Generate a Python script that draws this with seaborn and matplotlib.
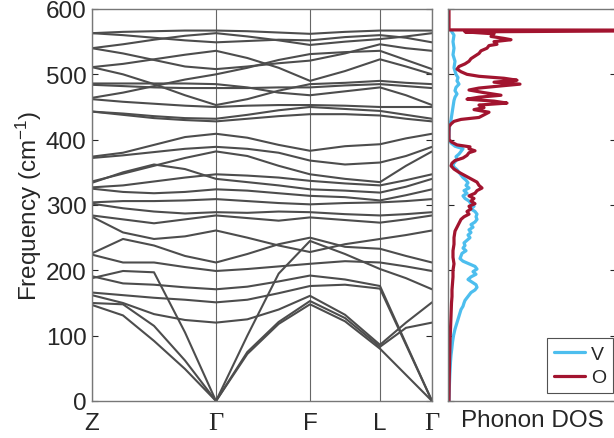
import numpy as np
import pandas as pd
import matplotlib
matplotlib.use("Agg")
import matplotlib.pyplot as plt
import seaborn as sns

# ---------------- data ----------------
seg_len = [124, 94, 70, 52]          # relative path lengths Z-Γ, Γ-F, F-L, L-Γ
seg_subdiv = [4, 3, 2, 2]            # sampled points per segment
tick_labels = ["Z", "Γ", "F", "L", "Γ"]

# frequencies (cm^-1) at knots: Z, 3 pts, Γ, 2 pts, F, 1 pt, L, 1 pt, Γ
bands = [
    [147, 131, 92, 49, 0, 72, 118, 148, 122, 80, 40, 0],
    [150, 148, 115, 62, 0, 75, 121, 153, 127, 83, 112, 120],
    [188, 199, 197, 105, 0, 100, 195, 245, 225, 202, 188, 171],
    [162, 150, 133, 124, 120, 125, 140, 161, 132, 86, 120, 151],
    [166, 162, 158, 155, 151, 155, 165, 176, 178, 172, 86, 0],
    [191, 180, 178, 174, 171, 175, 183, 192, 186, 176, 88, 0],
    [224, 212, 212, 205, 199, 202, 206, 210, 214, 212, 206, 199],
    [226, 248, 238, 222, 212, 225, 240, 250, 236, 233, 222, 212],
    [282, 258, 248, 252, 261, 250, 238, 228, 240, 248, 254, 261],
    [284, 278, 272, 278, 284, 280, 276, 281, 277, 273, 278, 284],
    [302, 295, 290, 287, 289, 288, 290, 289, 286, 284, 286, 289],
    [304, 306, 306, 307, 309, 306, 303, 301, 303, 304, 306, 309],
    [325, 320, 318, 320, 324, 322, 318, 314, 312, 307, 315, 324],
    [327, 330, 336, 342, 347, 345, 342, 337, 333, 330, 338, 347],
    [334, 350, 362, 355, 340, 335, 330, 324, 322, 319, 328, 340],
    [336, 348, 360, 372, 382, 375, 360, 347, 340, 335, 360, 382],
    [372, 376, 381, 386, 389, 386, 380, 368, 362, 365, 375, 389],
    [374, 380, 392, 404, 409, 403, 392, 383, 390, 393, 402, 409],
    [443, 438, 433, 430, 428, 432, 436, 439, 439, 437, 432, 428],
    [443, 440, 436, 433, 432, 438, 445, 450, 447, 444, 438, 432],
    [462, 458, 455, 452, 450, 452, 453, 453, 452, 450, 450, 450],
    [464, 472, 482, 492, 500, 510, 522, 531, 534, 536, 522, 508],
    [484, 482, 480, 479, 479, 479, 480, 480, 483, 485, 482, 479],
    [486, 486, 486, 486, 485, 480, 472, 468, 474, 480, 468, 453],
    [511, 500, 485, 468, 453, 462, 475, 485, 487, 490, 487, 485],
    [511, 516, 523, 530, 536, 525, 510, 490, 505, 523, 512, 500],
    [540, 532, 522, 512, 508, 512, 517, 521, 532, 546, 540, 536],
    [540, 546, 553, 559, 563, 558, 552, 545, 550, 554, 558, 563],
    [563, 560, 556, 552, 549, 551, 553, 552, 557, 560, 556, 549],
    [563, 565, 566, 567, 567, 566, 564, 562, 565, 567, 567, 567],
]

# phonon DOS (arbitrary units)
o_freq = [600, 568, 567.5, 565, 562, 558, 555, 553, 550, 546, 544, 540, 536, 532, 528, 524,
          520, 516, 512, 508, 504, 500, 497, 494, 491, 488, 485, 482, 479, 476, 472, 468,
          465, 462, 459, 456, 453, 449, 446, 442, 438, 434, 431, 428, 424, 420, 400, 396,
          392, 389, 386, 383, 380, 376, 372, 368, 364, 360, 355, 350, 345, 340, 335, 330,
          326, 322, 318, 314, 310, 306, 302, 298, 294, 290, 286, 282, 278, 272, 266, 260,
          250, 240, 230, 220, 210, 200, 190, 180, 170, 160, 150, 130, 110, 90, 60, 30, 0]
o_dos = [0, 0, 3.0, 0.16, 0.45, 0.42, 0.55, 0.62, 0.45, 0.48, 0.40, 0.38, 0.32, 0.30, 0.26, 0.22,
         0.20, 0.16, 0.10, 0.08, 0.12, 0.18, 0.30, 0.55, 0.68, 0.45, 0.71, 0.50, 0.30, 0.20, 0.35, 0.52,
         0.30, 0.18, 0.45, 0.58, 0.30, 0.35, 0.25, 0.40, 0.35, 0.30, 0.12, 0.05, 0.02, 0.0, 0.0, 0.03,
         0.08, 0.21, 0.20, 0.26, 0.20, 0.18, 0.14, 0.06, 0.03, 0.02, 0.05, 0.10, 0.16, 0.22, 0.28, 0.30,
         0.33, 0.28, 0.26, 0.20, 0.25, 0.22, 0.26, 0.20, 0.22, 0.18, 0.20, 0.15, 0.12, 0.10, 0.08, 0.06,
         0.05, 0.05, 0.04, 0.04, 0.05, 0.04, 0.04, 0.035, 0.03, 0.03, 0.025, 0.02, 0.015, 0.01, 0.005, 0.002, 0]

v_freq = [567, 560, 550, 540, 530, 520, 510, 500, 495, 490, 485, 480, 475, 470, 465, 460,
          450, 440, 430, 420, 410, 400, 395, 390, 386, 382, 378, 374, 370, 366, 362, 358,
          354, 350, 346, 342, 338, 334, 330, 326, 322, 318, 314, 310, 306, 302, 298, 294,
          290, 286, 282, 278, 274, 270, 266, 262, 258, 254, 250, 246, 242, 238, 234, 230,
          226, 222, 218, 214, 210, 206, 202, 198, 194, 190, 186, 182, 178, 174, 170, 166,
          162, 158, 154, 150, 145, 140, 130, 120, 110, 100, 90, 80, 70, 60, 40, 20, 0]
v_dos = [0.02, 0.05, 0.04, 0.05, 0.04, 0.06, 0.05, 0.07, 0.09, 0.08, 0.10, 0.07, 0.06, 0.08, 0.06, 0.05,
         0.04, 0.03, 0.02, 0.005, 0.0, 0.0, 0.02, 0.06, 0.14, 0.12, 0.10, 0.07, 0.08, 0.06, 0.04, 0.05,
         0.08, 0.10, 0.12, 0.14, 0.17, 0.19, 0.17, 0.20, 0.15, 0.18, 0.14, 0.16, 0.20, 0.22, 0.25, 0.22,
         0.26, 0.28, 0.27, 0.28, 0.26, 0.22, 0.24, 0.20, 0.22, 0.19, 0.21, 0.18, 0.15, 0.16, 0.14, 0.17,
         0.13, 0.12, 0.11, 0.14, 0.20, 0.26, 0.28, 0.24, 0.27, 0.22, 0.19, 0.23, 0.27, 0.28, 0.26, 0.22,
         0.20, 0.18, 0.16, 0.15, 0.14, 0.12, 0.10, 0.08, 0.06, 0.045, 0.035, 0.028, 0.02, 0.015, 0.008, 0.003, 0]

# ---------------- build k path ----------------
starts = np.concatenate([[0], np.cumsum(seg_len)])
k = [0.0]
for s, L, n in zip(starts[:-1], seg_len, seg_subdiv):
    k += [s + L * (i + 1) / n for i in range(n)]
k = np.array(k)

rows = []
for b, vals in enumerate(bands):
    for kk, f in zip(k, vals):
        rows.append((b, kk, f))
df_bands = pd.DataFrame(rows, columns=["band", "k", "freq"])

df_o = pd.DataFrame({"freq": o_freq, "dos": o_dos})
df_v = pd.DataFrame({"freq": v_freq, "dos": v_dos})

# ---------------- style ----------------
sns.set_theme(style="white")
plt.rcParams["font.family"] = ["Liberation Sans", "DejaVu Sans"]
plt.rcParams["mathtext.fontset"] = "custom"
plt.rcParams["mathtext.rm"] = "Liberation Sans"
plt.rcParams["mathtext.it"] = "Liberation Sans:italic"

FS = 17.5
TXT = "#262626"
W, H = 614, 439
fig = plt.figure(figsize=(W / 100, H / 100), dpi=100)
ax = fig.add_axes([92 / W, 1 - 402 / H, 340 / W, 392 / H])
ax2 = fig.add_axes([448 / W, 1 - 402 / H, 168 / W, 392 / H])

band_col = "#4d4d4d"
sns.lineplot(data=df_bands, x="k", y="freq", units="band", estimator=None,
             color=band_col, lw=1.5, ax=ax, legend=False, sort=True)
for ln in ax.get_lines():
    ln.set_solid_joinstyle("round")

ax.set_xlim(0, starts[-1])
ax.set_ylim(0, 600)
ax.set_xticks(starts)
ax.set_xticklabels(tick_labels)
for lab in ax.get_xticklabels():
    if lab.get_text() == "Γ":
        lab.set_fontfamily(["Liberation Serif", "DejaVu Serif"])
        lab.set_fontsize(FS + 1.5)
ax.set_yticks(range(0, 601, 100))
ax.grid(axis="x", color="#666666", lw=0.8)
ax.grid(axis="y", visible=False)
ax.tick_params(axis="y", direction="in", length=4, width=0.8, right=True, left=True,
               labelsize=FS, colors=TXT, pad=4)
ax.tick_params(axis="x", length=0, labelsize=FS, colors=TXT, pad=8)
for lab in ax.get_xticklabels():
    if lab.get_text() == "Γ":
        lab.set_fontsize(FS + 1.5)
ax.set_xlabel("")
ax.set_ylabel("Frequency (cm$^{\\mathregular{-1}}$)", fontsize=FS, color=TXT)
ax.yaxis.set_label_coords(-0.14, 0.5)
for sp in ax.spines.values():
    sp.set_color("#777777")
    sp.set_linewidth(1.0)

# DOS panel
sns.lineplot(data=df_v, x="dos", y="freq", sort=False, estimator=None,
             color="#4dbeee", lw=2.3, ax=ax2, label="V")
sns.lineplot(data=df_o, x="dos", y="freq", sort=False, estimator=None,
             color="#a2142f", lw=2.3, ax=ax2, label="O")
ax2.set_xlim(-0.01, 1.67)
ax2.set_ylim(0, 600)
ax2.set_yticks(range(0, 601, 100))
ax2.set_xticks([])
ax2.tick_params(axis="y", direction="in", length=4, width=0.8, left=True, right=True,
                labelleft=False, labelright=False, colors=TXT)
ax2.set_ylabel("")
ax2.set_xlabel("Phonon DOS", fontsize=FS, color=TXT, labelpad=6)
for sp in ax2.spines.values():
    sp.set_color("#777777")
    sp.set_linewidth(1.0)
leg = ax2.legend(loc="lower right", bbox_to_anchor=(0.982, 0.02), borderaxespad=0,
                 fontsize=14, frameon=True, fancybox=False,
                 handlelength=1.6, handletextpad=0.3, borderpad=0.35, labelspacing=0.3)
leg.get_frame().set_edgecolor(TXT)
leg.get_frame().set_linewidth(0.8)
for line in leg.get_lines():
    line.set_linewidth(2.3)

fig.savefig("out.png", dpi=100)
